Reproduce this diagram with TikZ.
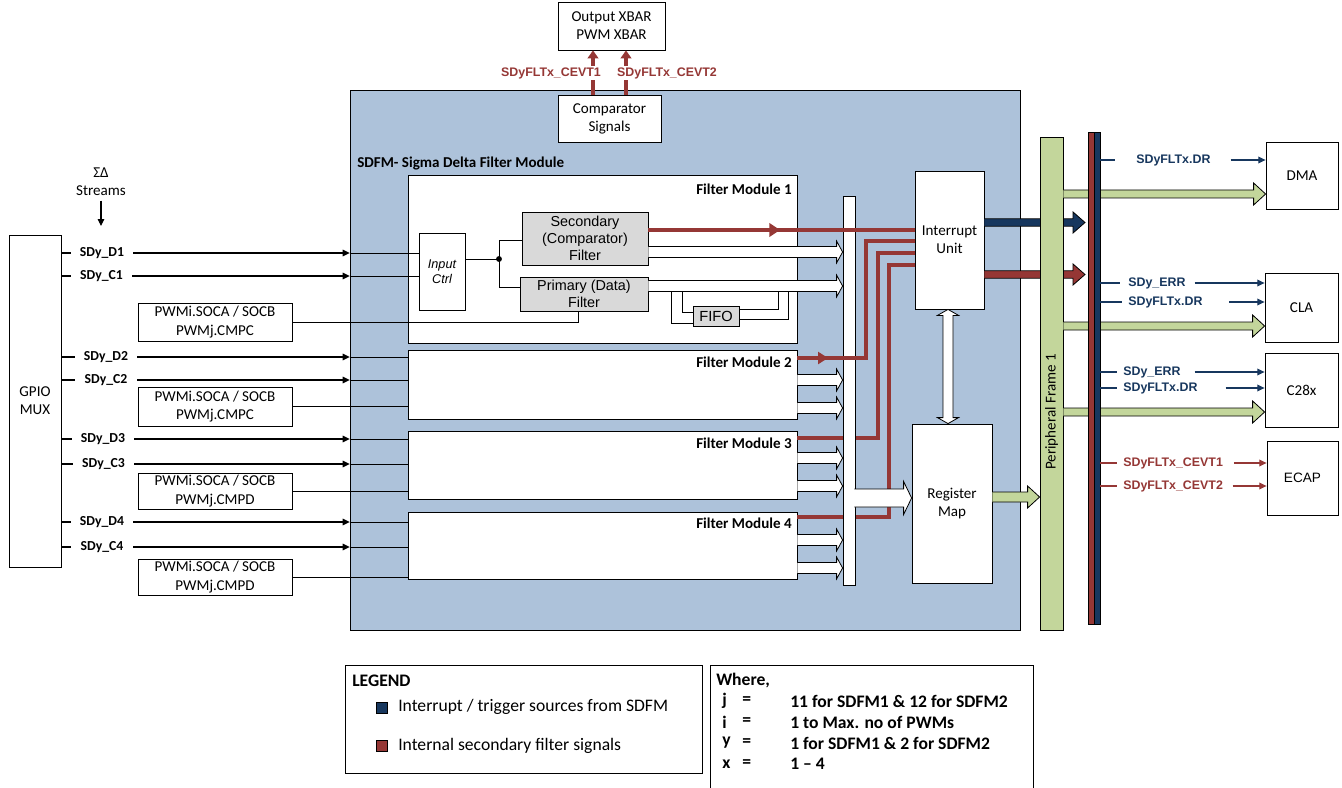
\documentclass[tikz,border=0pt]{standalone}
\usepackage{fontspec}
\setmainfont{Carlito}
\newfontfamily\arialf{Liberation Sans}
\usetikzlibrary{positioning,arrows.meta,calc,fit}

\definecolor{sdfmbg}{RGB}{173,194,218}
\definecolor{sigred}{RGB}{149,55,53}
\definecolor{sigblue}{RGB}{23,55,94}
\definecolor{pfgreen}{RGB}{195,214,155}
\definecolor{filtgray}{RGB}{217,217,217}

\newcommand{\blkfont}{\fontsize{11.3pt}{13.6pt}\selectfont}
\newcommand{\legfont}{\fontsize{13.2pt}{15.8pt}\selectfont}
\newcommand{\pinfont}{\bfseries\fontsize{10.3pt}{12pt}\selectfont}
\newcommand{\sigfont}{\arialf\bfseries\fontsize{9.3pt}{11pt}\selectfont}
\newcommand{\filtfont}{\arialf\fontsize{10.8pt}{12.6pt}\selectfont}

% fat (block) arrow: fill, from, to, half shaft, half head, head length
\newcommand{\fatarrow}[6]{%
  \filldraw[fill=#1, line width=0.6pt] let \p1=#2, \p2=#3 in
    (\x1,\y1+#4) -- (\x2-#6,\y1+#4) -- (\x2-#6,\y1+#5) -- (\x2,\y1)
    -- (\x2-#6,\y1-#5) -- (\x2-#6,\y1-#4) -- (\x1,\y1-#4);}

\begin{document}
\begin{tikzpicture}[
    x=0.75pt, y=-0.75pt,
    blk/.style={draw, fill=white, inner sep=0pt, align=center, font=\blkfont, line width=0.6pt},
    wh/.style 2 args={minimum width=#1*0.75pt, minimum height=#2*0.75pt},
    filt/.style={blk, fill=filtgray, font=\filtfont},
    wire/.style={line width=0.6pt},
    pin/.style={line width=0.8pt, -{Triangle[length=5.25pt,width=5pt]}},
    pinlbl/.style={fill=white, inner xsep=7pt, inner ysep=1pt, font=\pinfont},
    sigtxt/.style={font=\sigfont, inner sep=0pt, anchor=west},
    sigwire/.style={line width=0.9pt},
    sigln/.style={sigwire, -{Triangle[length=5.5pt,width=5pt]}},
    redwire/.style={sigred, line width=2.5pt},
    fmlbl/.style={anchor=east, inner sep=0pt, font=\bfseries\blkfont},
    txt/.style={anchor=west, inner sep=0pt, font=\legfont},
  ]
  \useasboundingbox (0,0) rectangle (1342,788);

  % SDFM module background
  \node[draw, fill=sdfmbg, fit={(350,90) (1020,630)}, inner sep=0pt, line width=0.6pt] (sdfm) {};
  \node[anchor=west, inner sep=0pt, font=\bfseries\blkfont] (sdfmlbl) at (357,163) {SDFM- Sigma Delta Filter Module};

  % comparator signals to xbar
  \node[blk, wh={107}{48}] (xbar) at (611.5,26) {Output XBAR\\PWM XBAR};
  \node[blk, wh={103}{47}] (cmp) at (609.5,118.5) {Comparator\\Signals};
  \draw[redwire, -{Triangle[length=6pt,width=8pt]}] (cmp.north -| 593,0) -- (xbar.south -| 593,0);
  \draw[redwire, -{Triangle[length=6pt,width=8pt]}] (cmp.north -| 626,0) -- (xbar.south -| 626,0);
  \node[sigtxt, anchor=center, fill=white, inner sep=1pt, text=sigred] (cevt1) at (551,73) {SDyFLTx\_CEVT1};
  \node[sigtxt, anchor=center, fill=white, inner sep=1pt, text=sigred] (cevt2) at (667,73) {SDyFLTx\_CEVT2};

  % GPIO side
  \node[align=center, font=\blkfont] (streams) at (101,182) {ΣΔ\\Streams};
  \coordinate (sdin) at (101,226);
  \draw[line width=0.8pt, -{Triangle[length=5.25pt,width=5pt]}] (streams.south) -- (sdin);
  \node[blk, wh={52}{332}] (gpio) at (35,401) {GPIO\\MUX};

  % filter modules
  \node[blk, fit={(408,175) (797,343)}] (fm1) {};
  \node[blk, fit={(408,350) (797,419)}] (fm2) {};
  \node[blk, fit={(408,431) (797,499)}] (fm3) {};
  \node[blk, fit={(408,512) (797,579)}] (fm4) {};
  \node[fmlbl] (fm1lbl) at (792,189) {Filter Module 1};
  \node[fmlbl] (fm2lbl) at (792,362) {Filter Module 2};
  \node[fmlbl] (fm3lbl) at (792,443) {Filter Module 3};
  \node[fmlbl] (fm4lbl) at (792,523) {Filter Module 4};

  \node[blk, wh={46}{77}, font=\arialf\itshape\fontsize{9.5pt}{11.5pt}\selectfont] (inctrl) at (442,271.5) {Input\\Ctrl};
  \node[filt, wh={126}{53}] (sec) at (585,238.5) {Secondary\\(Comparator)\\Filter};
  \node[filt, wh={128}{34}] (prim) at (584,294) {Primary (Data)\\Filter};
  \node[filt, wh={46}{20}, font=\arialf\fontsize{11pt}{13pt}\selectfont] (fifo) at (716,316) {FIFO};

  \coordinate (jn) at (499,259);
  \draw[wire] (inctrl.east |- jn) -- (jn) |- (sec.west |- 0,240);
  \draw[wire] (jn) |- (prim.west |- 0,287);
  \fill (jn) circle (2.2pt);

  \draw[wire] (671,292) |- (fifo.west |- 0,323);
  \draw[wire] (682,292) |- (fifo.west |- 0,312);
  \draw[wire] (fifo.east |- 0,309) -| (778,292);
  \draw[wire] (fifo.east |- 0,319) -| (788,292);

  % sigma delta pins
  \foreach \nm/\yy/\lx/\tg in {D1/253/102/inctrl, C1/276/101.5/inctrl, D2/357/106/fm2, C2/380/106/fm2,
                               D3/439/103/fm3, C3/464/103.5/fm3, D4/522/102/fm4, C4/547/102/fm4} {
    \draw[pin] (gpio.east |- 0,\yy) -- (sdfm.west |- 0,\yy);
    \draw[wire] (sdfm.west |- 0,\yy) -- (\tg.west |- 0,\yy);
    \node[pinlbl] (l\nm) at (\lx,\yy) {SDy\_\nm};
  }

  % PWM trigger boxes
  \foreach \i/\yc/\hh/\cm in {1/322/38/C, 2/406.5/39/C, 3/491/36/D, 4/577/36/D}
    \node[blk, wh={154}{\hh}] (pwm\i) at (215,\yc) {PWMi.SOCA / SOCB\\PWMj.CMP\cm};
  \draw[wire] (pwm1.east) -| (prim.south -| 578,0);
  \foreach \i in {2,3,4}
    \draw[wire] (pwm\i.east) -- (fm\i.west |- pwm\i.east);

  % interrupt unit and register map
  \node[blk, wh={69}{138}] (iu) at (949.5,240) {Interrupt\\Unit};
  \node[blk, wh={80}{159}] (reg) at (952,503.5) {Register\\Map};

  % secondary filter signals
  \draw[redwire, line join=miter] (fm3.east |- 0,438) -| (878,253) -- (iu.west |- 0,253);
  \draw[redwire, line join=miter] (fm4.east |- 0,517) -| (889,265) -- (iu.west |- 0,265);

  \node[draw, fill=white, fit={(843,196) (855,585)}, inner sep=0pt, line width=0.6pt] (bus) {};

  \draw[redwire, line width=3pt] (sec.east |- 0,230) -- (iu.west |- 0,230);
  \draw[redwire, line width=3pt, -{Triangle[length=8pt,width=10pt]}] (sec.east |- 0,230) -- (780,230);
  \draw[redwire, line join=miter] (fm2.east |- 0,358) -| (866,241) -- (iu.west |- 0,241);
  \draw[redwire, -{Triangle[length=7.5pt,width=9pt]}] (fm2.east |- 0,358) -- (828,358);

  % data paths to the bus
  \fatarrow{white}{(sec.east |- 0,252)}{(bus.west)}{4.1pt}{8.2pt}{4.5pt}
  \fatarrow{white}{(prim.east |- 0,286)}{(bus.west)}{4.1pt}{8.2pt}{4.5pt}
  \foreach \i/\ya/\yb in {2/380/408, 3/458/486, 4/540/568} {
    \fatarrow{white}{(fm\i.east |- 0,\ya)}{(bus.west)}{4.1pt}{8.2pt}{4.5pt}
    \fatarrow{white}{(fm\i.east |- 0,\yb)}{(bus.west)}{4.1pt}{8.2pt}{4.5pt}
  }
  \fatarrow{white}{($(bus.east |- 0,498)+(-1,0)$)}{(reg.west)}{6.75pt}{12.4pt}{6pt}

  % interrupt unit <-> register map
  \filldraw[fill=white, line width=0.6pt] let \p1=(iu.south -| 948,0), \p2=(reg.north -| 948,0) in
    (\x1,\y1) -- (\x1+7.9pt,\y1-4.5pt) -- (\x1+3.75pt,\y1-4.5pt) -- (\x1+3.75pt,\y2+4.5pt)
    -- (\x1+7.9pt,\y2+4.5pt) -- (\x1,\y2) -- (\x1-7.9pt,\y2+4.5pt) -- (\x1-3.75pt,\y2+4.5pt)
    -- (\x1-3.75pt,\y1-4.5pt) -- (\x1-7.9pt,\y1-4.5pt) -- cycle;

  % outputs to the peripheral frame
  \coordinate (busin) at (1085,0);
  \fatarrow{sigblue}{(iu.east |- 0,222.5)}{(busin)}{2.8pt}{7.9pt}{9pt}
  \fatarrow{sigred}{(iu.east |- 0,274.5)}{(busin)}{2.8pt}{7.9pt}{9pt}
  \node[draw, fill=pfgreen, fit={(1040,137) (1063,630)}, inner sep=0pt, line width=0.6pt] (pf) {};
  \node[rotate=90, font=\blkfont] (pflbl) at (1051.5,412) {Peripheral Frame 1};
  \fatarrow{pfgreen}{(reg.east |- 0,497)}{(pf.west)}{3.75pt}{8.25pt}{9pt}

  % peripherals
  \node[blk, wh={72}{67}] (dma) at (1302,175.5) {DMA};
  \node[blk, wh={73}{69}] (cla) at (1301.5,307.5) {CLA};
  \node[blk, wh={73}{74}] (c28) at (1301.5,390) {C28x};
  \node[blk, wh={71}{74}, font=\arialf\fontsize{10.2pt}{12pt}\selectfont] (ecap) at (1302.5,478) {ECAP};

  \fatarrow{pfgreen}{(pf.east |- 0,194)}{(dma.west)}{3pt}{8.25pt}{9pt}
  \fatarrow{pfgreen}{(pf.east |- 0,326)}{(cla.west)}{3pt}{8.25pt}{9pt}
  \fatarrow{pfgreen}{(pf.east |- 0,412)}{(c28.west)}{3pt}{8.25pt}{9pt}

  \node[draw, fill=sigred, fit={(1088,132) (1094,624)}, inner sep=0pt, line width=0.5pt] (redbus) {};
  \node[draw, fill=sigblue, fit={(1094,132) (1100,624)}, inner sep=0pt, line width=0.5pt] (bluebus) {};

  \foreach \nm/\tx/\yy/\tg/\col/\gl/\gr/\txt in {
      dmaDR/1136/160/dma/sigblue/15.75/15/SDyFLTx.DR,
      claER/1128/283/cla/sigblue/6/6.75/SDy\_ERR,
      claDR/1128/302/cla/sigblue/4.5/20/SDyFLTx.DR,
      c28ER/1123/372/c28/sigblue/4.5/10.5/SDy\_ERR,
      c28DR/1123/388/c28/sigblue/4.5/21/SDyFLTx.DR,
      ecE1/1123/463/ecap/sigred/4.5/8/SDyFLTx\_CEVT1,
      ecE2/1123/486/ecap/sigred/4.5/7/SDyFLTx\_CEVT2} {
    \node[sigtxt, text=\col] (\nm) at (\tx,\yy) {\txt};
    \draw[sigwire, \col] (bluebus.east |- \nm.west) -- ([xshift=-\gl pt]\nm.west);
    \draw[sigln, \col] ([xshift=\gr pt]\nm.east) -- (\tg.west |- \nm.east);
  }

  % legend
  \node[blk, fit={(345,665) (702,773)}] (legend) {};
  \node[txt, font=\bfseries\legfont] (leghead) at (352,681) {LEGEND};
  \node[draw, fill=sigblue, fit={(376,702) (387,713)}, inner sep=0pt, line width=0.5pt] (legb) {};
  \node[txt] (legbt) at (398,707) {Interrupt / trigger sources from SDFM};
  \node[draw, fill=sigred, fit={(376,740) (387,751)}, inner sep=0pt, line width=0.5pt] (legr) {};
  \node[txt] (legrt) at (398,746) {Internal secondary filter signals};

  \node[blk, fit={(710,665) (1033,796)}] (where) {};
  \node[txt, font=\bfseries\legfont] (wherehead) at (716,681) {Where,};
  \foreach \k/\v [count=\n] in {j/11 for SDFM1 \& 12 for SDFM2, i/1 to Max. no of PWMs,
                                y/1 for SDFM1 \& 2 for SDFM2, x/1 – 4} {
    \node[txt, font=\bfseries\legfont] (wk\n) at (722,680+21*\n) {\k};
    \node[txt, font=\bfseries\legfont] (we\n) at (742,680+21*\n) {=};
    \node[txt, font=\bfseries\legfont] (wv\n) at (790,680+21*\n) {\v};
  }
\end{tikzpicture}
\end{document}
